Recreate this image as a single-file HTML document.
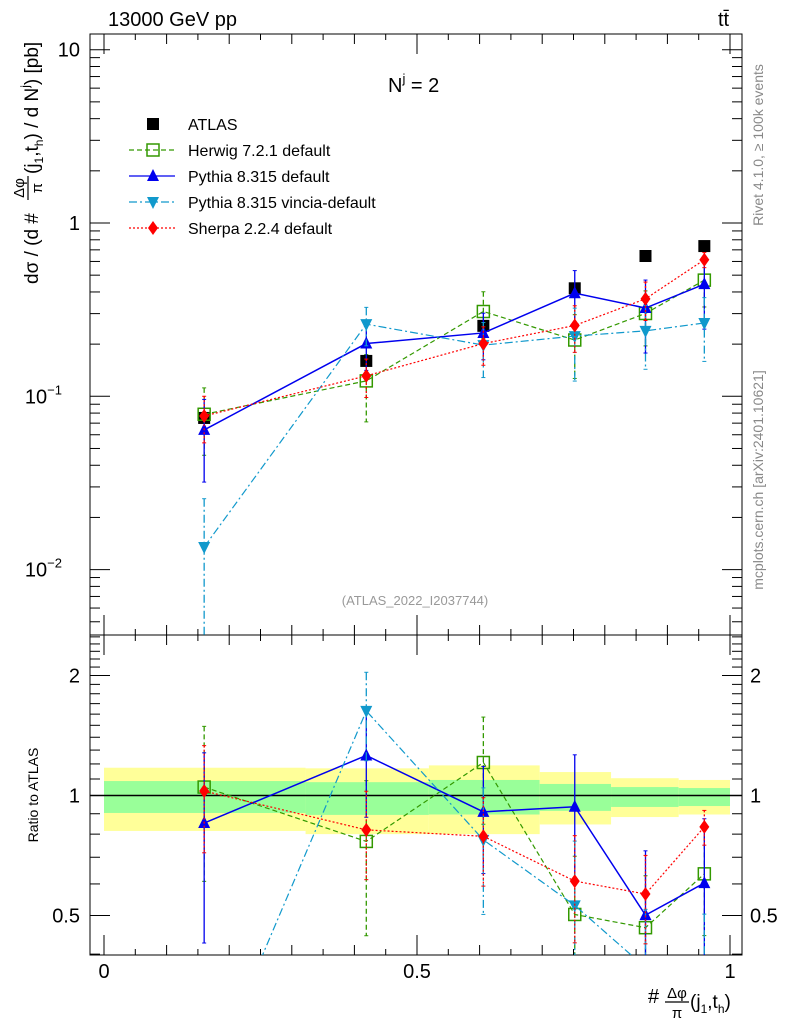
<!DOCTYPE html>
<html><head><meta charset="utf-8">
<style>
html,body{margin:0;padding:0;background:#fff;overflow:hidden;width:786px;height:1024px;}
svg{display:block;font-family:"Liberation Sans","DejaVu Sans",sans-serif;}
</style></head>
<body>
<svg id="chart" width="786" height="1024" viewBox="0 0 786 1024" xmlns="http://www.w3.org/2000/svg">
<g id="bands"></g>
<g id="grid"></g>
<g id="series"></g>
<g id="labels">
<text x="108" y="26" font-size="20">13000 GeV pp</text>
<text x="718" y="26" font-size="20">tt̄</text>
<text x="388" y="92" font-size="20">N<tspan dy="-9" font-size="13">j</tspan><tspan dy="9"> = 2</tspan></text>
<text x="415" y="605" font-size="13" fill="#999" text-anchor="middle">(ATLAS_2022_I2037744)</text>
<text transform="translate(763,145) rotate(-90)" font-size="14" fill="#888" text-anchor="middle">Rivet 4.1.0, ≥ 100k events</text>
<text transform="translate(763,480) rotate(-90)" font-size="14" fill="#888" text-anchor="middle">mcplots.cern.ch [arXiv:2401.10621]</text>
<g transform="translate(38,284) rotate(-90)">
  <text x="0" y="0" font-size="19">dσ / (d #</text>
  <text x="96" y="-14" font-size="15" text-anchor="middle">Δφ</text>
  <line x1="84" x2="108" y1="-10" y2="-10" stroke="#000" stroke-width="1.2"/>
  <text x="96" y="4" font-size="15" text-anchor="middle">π</text>
  <text x="110" y="0" font-size="19">(j<tspan font-size="12" dy="5">1</tspan><tspan dy="-5">,t</tspan><tspan font-size="12" dy="5">h</tspan><tspan dy="-5">) / d N</tspan><tspan font-size="12" dy="-9">j</tspan><tspan dy="9">) [pb]</tspan></text>
</g>
<text transform="translate(38,795) rotate(-90)" font-size="14" text-anchor="middle">Ratio to ATLAS</text>
<g>
  <text x="648" y="1003" font-size="20">#</text>
  <text x="677" y="998" font-size="15" text-anchor="middle">Δφ</text>
  <line x1="665" x2="689" y1="1002" y2="1002" stroke="#000" stroke-width="1.2"/>
  <text x="677" y="1018" font-size="15" text-anchor="middle">π</text>
  <text x="690" y="1008" font-size="19">(j<tspan font-size="12" dy="5">1</tspan><tspan dy="-5">,t</tspan><tspan font-size="12" dy="5">h</tspan><tspan dy="-5">)</tspan></text>
</g>
</g>
<g id="legend"></g>
</svg>
<script>
// ---- data ----
const binCenters = [0.16, 0.419, 0.606, 0.752, 0.865, 0.959];
const binEdges = [0, 0.322, 0.519, 0.696, 0.81, 0.918, 1.0];
const atlasValues = [0.075, 0.16, 0.255, 0.42, 0.645, 0.736];
const bandYellowUp = [1.174, 1.17, 1.19, 1.145, 1.105, 1.094];
const bandYellowDn = [0.815, 0.80, 0.80, 0.846, 0.883, 0.896];
const bandGreenUp = [1.087, 1.08, 1.094, 1.069, 1.05, 1.044];
const bandGreenDn = [0.904, 0.894, 0.896, 0.915, 0.936, 0.941];
const herwigRatio = [1.05, 0.767, 1.21, 0.503, 0.466, 0.636];
const pythiaRatio = [0.853, 1.26, 0.91, 0.937, 0.501, 0.603];
const vinciaRatio = [0.18, 1.63, 0.774, 0.53, 0.37, 0.36];
const sherpaRatio = [1.026, 0.82, 0.79, 0.61, 0.566, 0.834];
const herwigErr = [0.42, 0.42, 0.3, 0.4, 0.35, 0.3];
const pythiaErr = [0.5, 0.3, 0.3, 0.35, 0.45, 0.45];
const vinciaErr = [0.9, 0.25, 0.35, 0.45, 0.4, 0.4];
const sherpaErr = [0.3, 0.25, 0.25, 0.3, 0.25, 0.1];
const atlasErr = [0.03, 0.03, 0.03, 0.03, 0.03, 0.03];
const mainTickLabels = ["10", "1", "10", "10"];
const ratioTickLabels = ["2", "1", "0.5"];
const xTickLabels = ["0", "0.5", "1"];

// ---- axes ----
const NS = "http://www.w3.org/2000/svg";
const L = 90, R = 742, T = 34, MB = 635, B = 955;
const xS = v => 104 + v * 626;
const yMain = v => 223 - 173.3 * Math.log10(v);
const yRat = r => 795.5 - 120 * Math.log2(r);
function mk(parent, tag, attrs) {
  const e = document.createElementNS(NS, tag);
  for (const k in attrs) e.setAttribute(k, attrs[k]);
  parent.appendChild(e); return e;
}
const bands = document.getElementById('bands');
const grid = document.getElementById('grid');
const ser = document.getElementById('series');
const leg = document.getElementById('legend');

for (let i = 0; i < 6; i++) {
  const x0 = xS(binEdges[i]), x1 = xS(binEdges[i + 1]);
  const y = mk(bands, 'rect', {x: x0, y: yRat(bandYellowUp[i]), width: x1 - x0, height: yRat(bandYellowDn[i]) - yRat(bandYellowUp[i]), fill: '#ffff99'});
  
  
  const g = mk(bands, 'rect', {x: x0, y: yRat(bandGreenUp[i]), width: x1 - x0, height: yRat(bandGreenDn[i]) - yRat(bandGreenUp[i]), fill: '#99ff99'});
  
  
}
mk(grid, 'line', {x1: L, x2: R, y1: yRat(1), y2: yRat(1), stroke: '#000', 'stroke-width': 1.5});

const f1 = mk(grid, 'rect', {x: L, y: T, width: R - L, height: MB - T, fill: 'none', stroke: '#000', 'stroke-width': 1});


const f2 = mk(grid, 'rect', {x: L, y: MB, width: R - L, height: B - MB, fill: 'none', stroke: '#000', 'stroke-width': 1});



for (let d = -3; d <= 1; d++) {
  for (let m = 1; m <= 9; m++) {
    const v = m * Math.pow(10, d); const y = yMain(v);
    if (y < T || y > MB) continue;
    const len = m === 1 ? 20 : 10;
    mk(grid, 'line', {x1: L, x2: L + len, y1: y, y2: y, stroke: '#000'});
    mk(grid, 'line', {x1: R - len, x2: R, y1: y, y2: y, stroke: '#000'});
  }
}
const mainTickVals = [10, 1, 0.1, 0.01];
const mainExps = ["", "", "−1", "−2"];
mainTickVals.forEach((v, i) => {
  const t = mk(grid, 'text', {x: 80, y: yMain(v) + 7, 'font-size': 20, 'text-anchor': 'end'});
  t.textContent = mainTickLabels[i];
  if (mainExps[i]) {
    t.setAttribute('x', 62);
    const s = mk(t, 'tspan', {dy: -9, 'font-size': 13}); s.textContent = mainExps[i];
  }
  
  
});
for (let r = 0.4; r <= 2.55; r += 0.1) {
  const rr = Math.round(r * 10) / 10; const y = yRat(rr);
  if (y < MB || y > B) continue;
  const major = (rr === 0.5 || rr === 1 || rr === 2);
  const len = major ? 20 : 10;
  mk(grid, 'line', {x1: L, x2: L + len, y1: y, y2: y, stroke: '#000'});
  mk(grid, 'line', {x1: R - len, x2: R, y1: y, y2: y, stroke: '#000'});
}
[2, 1, 0.5].forEach((v, i) => {
  const t = mk(grid, 'text', {x: 80, y: yRat(v) + 7, 'font-size': 20, 'text-anchor': 'end'});
  t.textContent = ratioTickLabels[i];
  
  
  const t2 = mk(grid, 'text', {x: 750, y: yRat(v) + 7, 'font-size': 20});
  t2.textContent = ratioTickLabels[i];
  
  
});
for (let k = 0; k <= 20; k++) {
  const v = k * 0.05, x = xS(v);
  const len = (k % 10 === 0) ? 20 : (k % 2 === 0 ? 10 : 6);
  mk(grid, 'line', {x1: x, x2: x, y1: B - len, y2: B, stroke: '#000'});
  mk(grid, 'line', {x1: x, x2: x, y1: MB, y2: MB + len, stroke: '#000'});
  mk(grid, 'line', {x1: x, x2: x, y1: MB - len, y2: MB, stroke: '#000'});
  mk(grid, 'line', {x1: x, x2: x, y1: T, y2: T + len, stroke: '#000'});
}
[0, 0.5, 1].forEach((v, i) => {
  const t = mk(grid, 'text', {x: xS(v), y: 978, 'font-size': 20, 'text-anchor': 'middle'});
  t.textContent = xTickLabels[i];
  
  
});

const clipM = mk(ser, 'clipPath', {id: 'cm'}); mk(clipM, 'rect', {x: L, y: T, width: R - L, height: MB - T});
const clipR = mk(ser, 'clipPath', {id: 'cr'}); mk(clipR, 'rect', {x: L, y: MB, width: R - L, height: B - MB});

function marker(g, kind, x, y, color) {
  let e;
  if (kind === 'sq') e = mk(g, 'rect', {x: x - 6, y: y - 6, width: 12, height: 12, fill: '#000'});
  if (kind === 'osq') e = mk(g, 'rect', {x: x - 6, y: y - 6, width: 12, height: 12, fill: '#fff', 'fill-opacity': 0, stroke: color, 'stroke-width': 1.5});
  if (kind === 'up') e = mk(g, 'polygon', {points: `${x},${y - 7} ${x - 6},${y + 5} ${x + 6},${y + 5}`, fill: color});
  if (kind === 'dn') e = mk(g, 'polygon', {points: `${x},${y + 7} ${x - 6},${y - 5} ${x + 6},${y - 5}`, fill: color});
  if (kind === 'dia') e = mk(g, 'polygon', {points: `${x},${y - 7} ${x - 5},${y} ${x},${y + 7} ${x + 5},${y}`, fill: color});
  return e;
}
const models = [
  {name: 'herwig', label: 'Herwig 7.2.1 default', ratio: herwigRatio, err: herwigErr, color: '#339900', dash: '5,3', m: 'osq'},
  {name: 'pythia', label: 'Pythia 8.315 default', ratio: pythiaRatio, err: pythiaErr, color: '#0000ee', dash: '', m: 'up'},
  {name: 'vincia', label: 'Pythia 8.315 vincia-default', ratio: vinciaRatio, err: vinciaErr, color: '#1199cc', dash: '8,3,2,3', m: 'dn'},
  {name: 'sherpa', label: 'Sherpa 2.2.4 default', ratio: sherpaRatio, err: sherpaErr, color: '#ff0000', dash: '2,2', m: 'dia'}
];
function drawSeries(vals, errs, yF, clip, m, pname) {
  const g = mk(ser, 'g', {'clip-path': `url(#${clip})`});
  
  
  const pts = vals.map((v, i) => `${xS(binCenters[i])},${yF(v)}`).join(' ');
  if (m.m !== 'sq') {
    const pl = mk(g, 'polyline', {points: pts, fill: 'none', stroke: m.color, 'stroke-width': m.m === 'up' ? 1.5 : 1.2});
    if (m.dash) pl.setAttribute('stroke-dasharray', m.dash);
  }
  vals.forEach((v, i) => {
    const x = xS(binCenters[i]);
    const y1 = yF(v * (1 + errs[i])), y2 = yF(Math.max(v * (1 - errs[i]), 1e-4));
    const eb = mk(g, 'line', {x1: x, x2: x, y1: y1, y2: y2, stroke: m.color, 'stroke-width': 1.3});
    if (m.dash) eb.setAttribute('stroke-dasharray', m.dash);
    mk(g, 'line', {x1: x - 2, x2: x + 2, y1: y1, y2: y1, stroke: m.color});
    mk(g, 'line', {x1: x - 2, x2: x + 2, y1: y2, y2: y2, stroke: m.color});
    const mm = marker(g, m.m, x, yF(v), m.color);
    
    
  });
}
drawSeries(atlasValues, atlasErr, yMain, 'cm', {m: 'sq', color: '#000', dash: ''}, 'atlas-data');
models.forEach(md => {
  const mainVals = md.ratio.map((r, i) => r * atlasValues[i]);
  drawSeries(mainVals, md.err, yMain, 'cm', md, md.name + '-main');
  drawSeries(md.ratio, md.err, yRat, 'cr', md, md.name + '-ratio');
});

const legItems = [{label: 'ATLAS', m: 'sq', color: '#000', dash: ''}].concat(models);
legItems.forEach((it, i) => {
  const y = 124 + i * 26;
  const g = mk(leg, 'g', {});
  
  
  if (it.m !== 'sq') {
    const l = mk(g, 'line', {x1: 129, x2: 175, y1: y, y2: y, stroke: it.color, 'stroke-width': 1.3});
    if (it.dash) l.setAttribute('stroke-dasharray', it.dash);
  }
  marker(g, it.m, 153, y, it.color);
  const t = mk(g, 'text', {x: 188, y: y + 6, 'font-size': 16});
  t.textContent = it.label;
});
</script>
</body></html>
